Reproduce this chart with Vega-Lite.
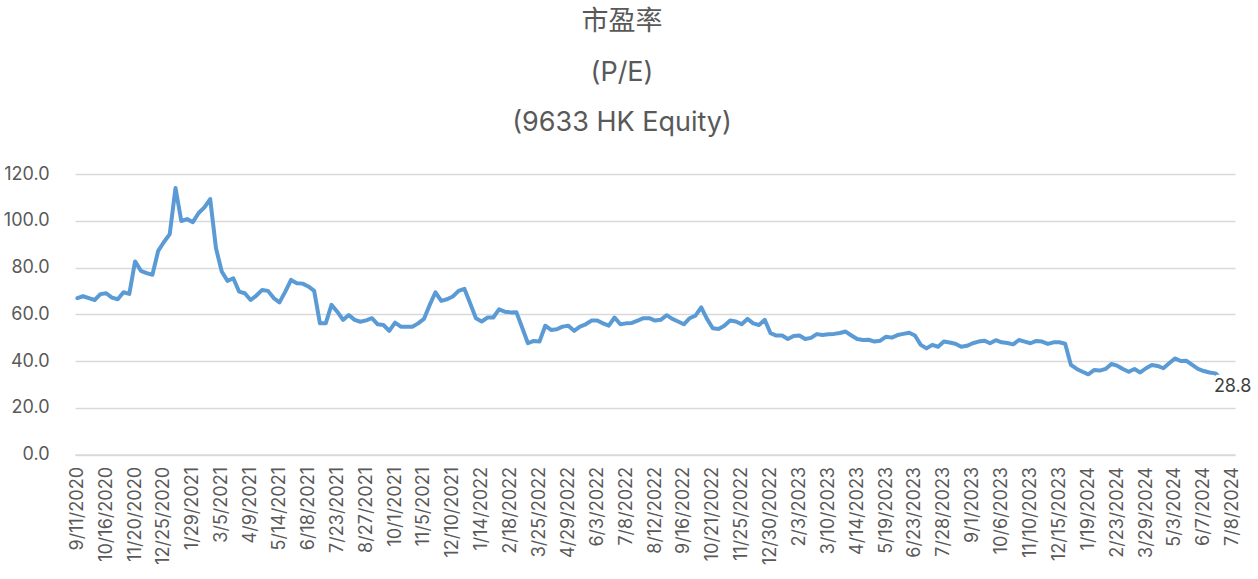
{
  "$schema": "https://vega.github.io/schema/vega-lite/v6.json",
  "width": 1160,
  "height": 280.5,
  "autosize": {"type": "none"},
  "padding": {"left": 75, "top": 174, "right": 23, "bottom": 124.5},
  "background": "white",
  "title": {
    "text": ["市盈率", "(P/E)", "(9633 HK Equity)"],
    "anchor": "middle",
    "frame": "group",
    "dx": -33,
    "offset": 28,
    "fontSize": 27,
    "fontWeight": "normal",
    "color": "#595959",
    "font": "Inter, Noto Sans CJK SC",
    "lineHeight": 50.5
  },
  "config": {"view": {"stroke": null}},
  "data": {
    "values": [
      {"d": "9/11/2020", "pe": 66.9}, {"d": "9/18/2020", "pe": 67.7}, {"d": "9/25/2020", "pe": 66.9}, {"d": "10/2/2020", "pe": 66.1},
      {"d": "10/9/2020", "pe": 68.6}, {"d": "10/16/2020", "pe": 69.0}, {"d": "10/23/2020", "pe": 67.1}, {"d": "10/30/2020", "pe": 66.4},
      {"d": "11/6/2020", "pe": 69.4}, {"d": "11/13/2020", "pe": 68.7}, {"d": "11/20/2020", "pe": 82.6}, {"d": "11/27/2020", "pe": 78.6},
      {"d": "12/4/2020", "pe": 77.6}, {"d": "12/11/2020", "pe": 76.9}, {"d": "12/18/2020", "pe": 87.1}, {"d": "12/25/2020", "pe": 90.9},
      {"d": "1/1/2021", "pe": 94.3}, {"d": "1/8/2021", "pe": 114.0}, {"d": "1/15/2021", "pe": 99.9}, {"d": "1/22/2021", "pe": 100.7},
      {"d": "1/29/2021", "pe": 99.4}, {"d": "2/5/2021", "pe": 103.3}, {"d": "2/12/2021", "pe": 105.7}, {"d": "2/19/2021", "pe": 109.3},
      {"d": "2/26/2021", "pe": 88.3}, {"d": "3/5/2021", "pe": 78.3}, {"d": "3/12/2021", "pe": 74.3}, {"d": "3/19/2021", "pe": 75.4},
      {"d": "3/26/2021", "pe": 69.7}, {"d": "4/2/2021", "pe": 69.0}, {"d": "4/9/2021", "pe": 66.1}, {"d": "4/16/2021", "pe": 68.0},
      {"d": "4/23/2021", "pe": 70.4}, {"d": "4/30/2021", "pe": 70.0}, {"d": "5/7/2021", "pe": 66.9}, {"d": "5/14/2021", "pe": 65.1},
      {"d": "5/21/2021", "pe": 69.7}, {"d": "5/28/2021", "pe": 74.7}, {"d": "6/4/2021", "pe": 73.3}, {"d": "6/11/2021", "pe": 73.1},
      {"d": "6/18/2021", "pe": 71.9}, {"d": "6/25/2021", "pe": 70.0}, {"d": "7/2/2021", "pe": 56.1}, {"d": "7/9/2021", "pe": 56.1},
      {"d": "7/16/2021", "pe": 64.0}, {"d": "7/23/2021", "pe": 61.1}, {"d": "7/30/2021", "pe": 57.6}, {"d": "8/6/2021", "pe": 59.7},
      {"d": "8/13/2021", "pe": 57.6}, {"d": "8/20/2021", "pe": 56.8}, {"d": "8/27/2021", "pe": 57.4}, {"d": "9/3/2021", "pe": 58.3},
      {"d": "9/10/2021", "pe": 55.7}, {"d": "9/17/2021", "pe": 55.4}, {"d": "9/24/2021", "pe": 52.9}, {"d": "10/1/2021", "pe": 56.4},
      {"d": "10/8/2021", "pe": 54.7}, {"d": "10/15/2021", "pe": 54.7}, {"d": "10/22/2021", "pe": 54.7}, {"d": "10/29/2021", "pe": 56.1},
      {"d": "11/5/2021", "pe": 58.0}, {"d": "11/12/2021", "pe": 64.0}, {"d": "11/19/2021", "pe": 69.4}, {"d": "11/26/2021", "pe": 65.7},
      {"d": "12/3/2021", "pe": 66.4}, {"d": "12/10/2021", "pe": 67.6}, {"d": "12/17/2021", "pe": 70.0}, {"d": "12/24/2021", "pe": 70.9},
      {"d": "12/31/2021", "pe": 64.7}, {"d": "1/7/2022", "pe": 58.3}, {"d": "1/14/2022", "pe": 56.9}, {"d": "1/21/2022", "pe": 58.6},
      {"d": "1/28/2022", "pe": 58.6}, {"d": "2/4/2022", "pe": 62.1}, {"d": "2/11/2022", "pe": 61.1}, {"d": "2/18/2022", "pe": 60.8},
      {"d": "2/25/2022", "pe": 60.9}, {"d": "3/4/2022", "pe": 54.3}, {"d": "3/11/2022", "pe": 47.6}, {"d": "3/18/2022", "pe": 48.6},
      {"d": "3/25/2022", "pe": 48.3}, {"d": "4/1/2022", "pe": 55.1}, {"d": "4/8/2022", "pe": 53.3}, {"d": "4/15/2022", "pe": 53.6},
      {"d": "4/22/2022", "pe": 54.7}, {"d": "4/29/2022", "pe": 55.1}, {"d": "5/6/2022", "pe": 52.9}, {"d": "5/13/2022", "pe": 54.7},
      {"d": "5/20/2022", "pe": 55.7}, {"d": "5/27/2022", "pe": 57.3}, {"d": "6/3/2022", "pe": 57.3}, {"d": "6/10/2022", "pe": 56.1},
      {"d": "6/17/2022", "pe": 55.1}, {"d": "6/24/2022", "pe": 58.6}, {"d": "7/1/2022", "pe": 55.7}, {"d": "7/8/2022", "pe": 56.1},
      {"d": "7/15/2022", "pe": 56.3}, {"d": "7/22/2022", "pe": 57.3}, {"d": "7/29/2022", "pe": 58.3}, {"d": "8/5/2022", "pe": 58.3},
      {"d": "8/12/2022", "pe": 57.3}, {"d": "8/19/2022", "pe": 57.6}, {"d": "8/26/2022", "pe": 59.6}, {"d": "9/2/2022", "pe": 58.0},
      {"d": "9/9/2022", "pe": 56.9}, {"d": "9/16/2022", "pe": 55.7}, {"d": "9/23/2022", "pe": 58.3}, {"d": "9/30/2022", "pe": 59.4},
      {"d": "10/7/2022", "pe": 62.9}, {"d": "10/14/2022", "pe": 58.0}, {"d": "10/21/2022", "pe": 54.0}, {"d": "10/28/2022", "pe": 53.7},
      {"d": "11/4/2022", "pe": 55.1}, {"d": "11/11/2022", "pe": 57.3}, {"d": "11/18/2022", "pe": 56.9}, {"d": "11/25/2022", "pe": 55.7},
      {"d": "12/2/2022", "pe": 58.0}, {"d": "12/9/2022", "pe": 56.1}, {"d": "12/16/2022", "pe": 55.4}, {"d": "12/23/2022", "pe": 57.6},
      {"d": "12/30/2022", "pe": 51.9}, {"d": "1/6/2023", "pe": 50.9}, {"d": "1/13/2023", "pe": 50.9}, {"d": "1/20/2023", "pe": 49.4},
      {"d": "1/27/2023", "pe": 50.7}, {"d": "2/3/2023", "pe": 50.9}, {"d": "2/10/2023", "pe": 49.4}, {"d": "2/17/2023", "pe": 49.9},
      {"d": "2/24/2023", "pe": 51.5}, {"d": "3/3/2023", "pe": 51.1}, {"d": "3/10/2023", "pe": 51.4}, {"d": "3/17/2023", "pe": 51.6},
      {"d": "3/24/2023", "pe": 52.0}, {"d": "3/31/2023", "pe": 52.6}, {"d": "4/7/2023", "pe": 50.9}, {"d": "4/14/2023", "pe": 49.4},
      {"d": "4/21/2023", "pe": 49.0}, {"d": "4/28/2023", "pe": 49.1}, {"d": "5/5/2023", "pe": 48.3}, {"d": "5/12/2023", "pe": 48.7},
      {"d": "5/19/2023", "pe": 50.4}, {"d": "5/26/2023", "pe": 50.0}, {"d": "6/2/2023", "pe": 51.1}, {"d": "6/9/2023", "pe": 51.6},
      {"d": "6/16/2023", "pe": 52.1}, {"d": "6/23/2023", "pe": 50.9}, {"d": "6/30/2023", "pe": 46.9}, {"d": "7/7/2023", "pe": 45.4},
      {"d": "7/14/2023", "pe": 46.9}, {"d": "7/21/2023", "pe": 46.1}, {"d": "7/28/2023", "pe": 48.3}, {"d": "8/4/2023", "pe": 47.9},
      {"d": "8/11/2023", "pe": 47.4}, {"d": "8/18/2023", "pe": 46.1}, {"d": "8/25/2023", "pe": 46.5}, {"d": "9/1/2023", "pe": 47.6},
      {"d": "9/8/2023", "pe": 48.3}, {"d": "9/15/2023", "pe": 48.7}, {"d": "9/22/2023", "pe": 47.6}, {"d": "9/29/2023", "pe": 48.9},
      {"d": "10/6/2023", "pe": 48.0}, {"d": "10/13/2023", "pe": 47.7}, {"d": "10/20/2023", "pe": 47.1}, {"d": "10/27/2023", "pe": 49.0},
      {"d": "11/3/2023", "pe": 48.3}, {"d": "11/10/2023", "pe": 47.6}, {"d": "11/17/2023", "pe": 48.6}, {"d": "11/24/2023", "pe": 48.3},
      {"d": "12/1/2023", "pe": 47.3}, {"d": "12/8/2023", "pe": 48.0}, {"d": "12/15/2023", "pe": 48.0}, {"d": "12/22/2023", "pe": 47.4},
      {"d": "12/29/2023", "pe": 38.3}, {"d": "1/5/2024", "pe": 36.6}, {"d": "1/12/2024", "pe": 35.4}, {"d": "1/19/2024", "pe": 34.3},
      {"d": "1/26/2024", "pe": 36.1}, {"d": "2/2/2024", "pe": 35.9}, {"d": "2/9/2024", "pe": 36.6}, {"d": "2/16/2024", "pe": 38.7},
      {"d": "2/23/2024", "pe": 38.0}, {"d": "3/1/2024", "pe": 36.6}, {"d": "3/8/2024", "pe": 35.4}, {"d": "3/15/2024", "pe": 36.6},
      {"d": "3/22/2024", "pe": 35.1}, {"d": "3/29/2024", "pe": 36.9}, {"d": "4/5/2024", "pe": 38.3}, {"d": "4/12/2024", "pe": 37.9},
      {"d": "4/19/2024", "pe": 36.9}, {"d": "4/26/2024", "pe": 39.0}, {"d": "5/3/2024", "pe": 41.1}, {"d": "5/10/2024", "pe": 40.0},
      {"d": "5/17/2024", "pe": 40.1}, {"d": "5/24/2024", "pe": 38.3}, {"d": "5/31/2024", "pe": 36.6}, {"d": "6/7/2024", "pe": 35.7},
      {"d": "6/14/2024", "pe": 35.1}, {"d": "6/21/2024", "pe": 34.7}, {"d": "6/28/2024", "pe": 32.6}, {"d": "7/5/2024", "pe": 30.4},
      {"d": "7/8/2024", "pe": 28.8}
    ]
  },
  "encoding": {
    "x": {
      "field": "d",
      "type": "ordinal",
      "sort": null,
      "scale": {"type": "point", "padding": 0.4},
      "axis": {
        "values": ["9/11/2020", "10/16/2020", "11/20/2020", "12/25/2020", "1/29/2021", "3/5/2021", "4/9/2021", "5/14/2021", "6/18/2021", "7/23/2021", "8/27/2021", "10/1/2021", "11/5/2021", "12/10/2021", "1/14/2022", "2/18/2022", "3/25/2022", "4/29/2022", "6/3/2022", "7/8/2022", "8/12/2022", "9/16/2022", "10/21/2022", "11/25/2022", "12/30/2022", "2/3/2023", "3/10/2023", "4/14/2023", "5/19/2023", "6/23/2023", "7/28/2023", "9/1/2023", "10/6/2023", "11/10/2023", "12/15/2023", "1/19/2024", "2/23/2024", "3/29/2024", "5/3/2024", "6/7/2024", "7/8/2024"],
        "title": null,
        "labelAngle": 270,
        "labelAlign": "right",
        "labelBaseline": "middle",
        "labelPadding": 12,
        "labelFontSize": 18,
        "labelFont": "Inter",
        "labelColor": "#595959",
        "labelOverlap": false,
        "ticks": false,
        "grid": false,
        "domain": true,
        "domainColor": "#d9d9d9",
        "domainWidth": 1.5
      }
    },
    "y": {
      "field": "pe",
      "type": "quantitative",
      "scale": {"domain": [0, 120], "nice": false, "zero": true},
      "axis": {
        "values": [0, 20, 40, 60, 80, 100, 120],
        "format": ".1f",
        "title": null,
        "domain": false,
        "ticks": false,
        "labelPadding": 26,
        "labelFontSize": 18,
        "labelFont": "Inter",
        "labelColor": "#595959",
        "gridColor": "#d9d9d9",
        "gridWidth": 1.5
      }
    }
  },
  "layer": [
    {
      "mark": {"type": "line", "color": "#5b9bd5", "strokeWidth": 4, "strokeJoin": "round", "strokeCap": "round"}
    },
    {
      "transform": [{"filter": "datum.d === '7/8/2024'"}],
      "mark": {"type": "text", "align": "center", "baseline": "middle", "fontSize": 18, "font": "Inter", "fill": "white", "stroke": "white", "strokeWidth": 7},
      "encoding": {"text": {"field": "pe", "type": "quantitative", "format": ".1f"}}
    },
    {
      "transform": [{"filter": "datum.d === '7/8/2024'"}],
      "mark": {"type": "text", "align": "center", "baseline": "middle", "fontSize": 18, "font": "Inter", "color": "#404040"},
      "encoding": {"text": {"field": "pe", "type": "quantitative", "format": ".1f"}}
    }
  ]
}
